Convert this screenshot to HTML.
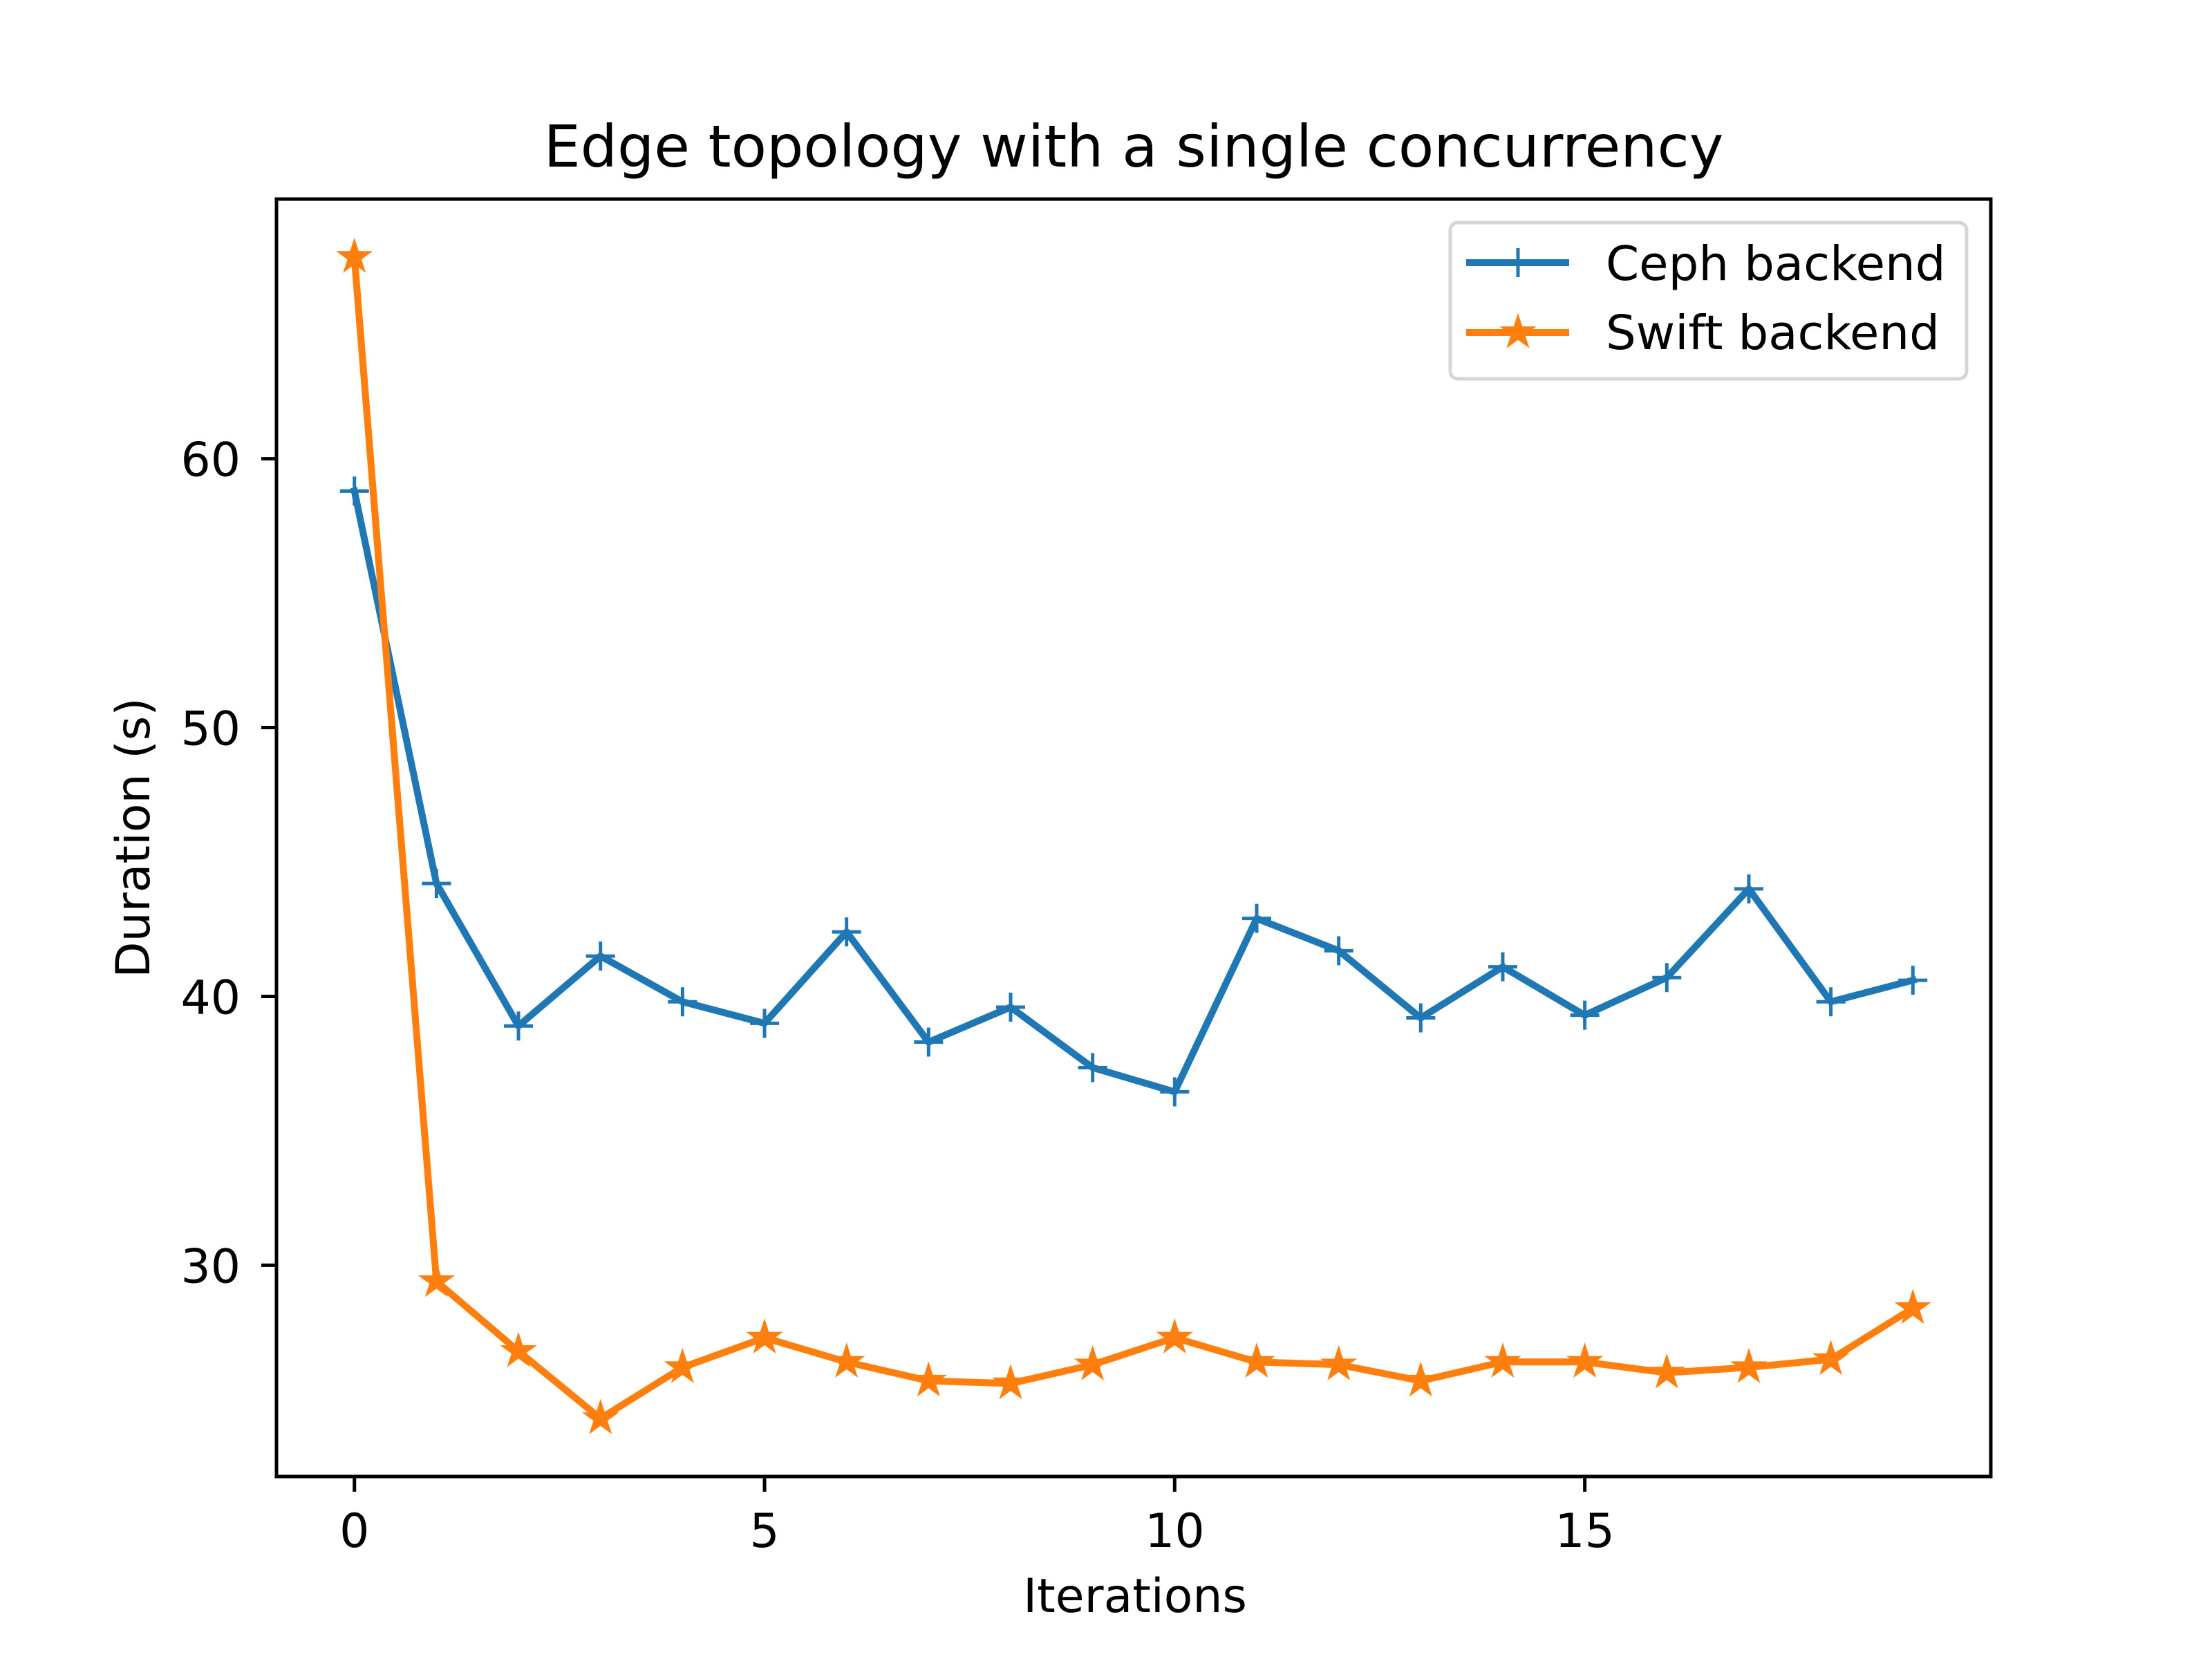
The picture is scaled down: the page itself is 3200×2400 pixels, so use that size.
<!DOCTYPE html>
<html><head><meta charset="utf-8"><style>
html,body{margin:0;padding:0;background:#fff}
svg{display:block}
text{font-family:"DejaVu Sans","Liberation Sans",sans-serif;fill:#000}
</style></head><body>
<svg id="chart" width="3200" height="2400" viewBox="0 0 3200 2400" xmlns="http://www.w3.org/2000/svg">
<rect x="0" y="0" width="3200" height="2400" fill="#fff"/>
<text x="1640" y="241" font-size="84" text-anchor="middle">Edge topology with a single concurrency</text>
<g id="plot"></g>
<rect x="400" y="288" width="2480" height="1848" fill="none" stroke="#000" stroke-width="5"/>
<g id="ticks"></g>
<text x="1642" y="2332" font-size="68" text-anchor="middle">Iterations</text>
<text transform="translate(216,1212) rotate(-90)" font-size="68" text-anchor="middle">Duration (s)</text>
<g>
<rect x="2098" y="322" width="747" height="226" rx="11" fill="#fff" fill-opacity="0.8" stroke="#d6d6d6" stroke-width="5"/>
<g id="legend-items"></g>
<text x="2323" y="405" font-size="69">Ceph backend</text>
<text x="2323" y="505" font-size="69">Swift backend</text>
</g>
</svg>
<script>
const iterations = [0,1,2,3,4,5,6,7,8,9,10,11,12,13,14,15,16,17,18,19];
const cephValues = [58.8,44.2,38.9,41.5,39.8,39.0,42.4,38.3,39.6,37.35,36.45,42.9,41.7,39.2,41.1,39.3,40.7,44.0,39.8,40.6];
const swiftValues = [67.5,29.4,26.8,24.3,26.2,27.3,26.4,25.7,25.6,26.3,27.3,26.4,26.3,25.7,26.4,26.4,26.0,26.2,26.5,28.4];
const xTicks = [0,5,10,15];
const yTicks = [30,40,50,60];

const NS = "http://www.w3.org/2000/svg";
const L = 400, R = 2880, T = 288, B = 2136;
const xMin = Math.min(...iterations), xMax = Math.max(...iterations);
const xPad = (xMax - xMin) * 0.05;
const allY = cephValues.concat(swiftValues);
const yMinD = Math.min(...allY), yMaxD = Math.max(...allY);
const yPad = (yMaxD - yMinD) * 0.05;
const x0 = xMin - xPad, x1 = xMax + xPad, y0 = yMinD - yPad, y1 = yMaxD + yPad;
function xs(v){ return L + (v - x0) / (x1 - x0) * (R - L); }
function ys(v){ return B - (v - y0) / (y1 - y0) * (B - T); }
function mk(tag, attrs, parent){
  const e = document.createElementNS(NS, tag);
  for (const k in attrs) e.setAttribute(k, attrs[k]);
  parent.appendChild(e);
  return e;
}
const plot = document.getElementById('plot');
const ticks = document.getElementById('ticks');
const legendItems = document.getElementById('legend-items');
const BLUE = '#1f77b4', ORANGE = '#ff7f0e';

function starPoints(cx, cy, r){
  const pts = [];
  const ri = r * 0.381966;
  for (let i = 0; i < 10; i++){
    const a = -Math.PI/2 + i * Math.PI/5;
    const rr = i % 2 === 0 ? r : ri;
    pts.push((cx + rr*Math.cos(a)).toFixed(1) + ',' + (cy + rr*Math.sin(a)).toFixed(1));
  }
  return pts.join(' ');
}
function plus(parent, cx, cy, color){
  const h = 21;
  return mk('path', {d:`M${cx-h},${cy}H${cx+h}M${cx},${cy-h}V${cy+h}`, stroke: color, 'stroke-width': 5, fill:'none'}, parent);
}
function star(parent, cx, cy, color){
  return mk('polygon', {points: starPoints(cx, cy, 20), fill: color, stroke: color, 'stroke-width': 5, 'stroke-linejoin':'miter'}, parent);
}

function drawSeries(vals, color, name, markerFn){
  const g = mk('g', {}, plot);
  
  
  const d = vals.map((v,i) => (i ? 'L' : 'M') + xs(iterations[i]).toFixed(1) + ',' + ys(v).toFixed(1)).join('');
  const line = mk('path', {d: d, fill:'none', stroke: color, 'stroke-width': 10, 'stroke-linejoin':'round', 'stroke-linecap':'square'}, g);
  
  
  vals.forEach((v,i) => {
    const m = markerFn(g, xs(iterations[i]), ys(v), color);
    
    
  });
}
drawSeries(cephValues, BLUE, 'ceph', plus);
drawSeries(swiftValues, ORANGE, 'swift', star);

xTicks.forEach(t => {
  const x = xs(t);
  const tl = mk('line', {x1:x, x2:x, y1:B, y2:B+22, stroke:'#000', 'stroke-width':5}, ticks);
  
  
  const tx = mk('text', {x:x, y:2238, 'font-size':68, 'text-anchor':'middle'}, ticks);
  tx.textContent = String(t);
  
  
});
yTicks.forEach(t => {
  const y = ys(t);
  const tl = mk('line', {x1:L-22, x2:L, y1:y, y2:y, stroke:'#000', 'stroke-width':5}, ticks);
  
  
  const tx = mk('text', {x:348, y:y+25, 'font-size':68, 'text-anchor':'end'}, ticks);
  tx.textContent = String(t);
  
  
});

const l1 = mk('line', {x1:2121, x2:2270, y1:380, y2:380, stroke:BLUE, 'stroke-width':10}, legendItems);


const m1 = plus(legendItems, 2196, 380, BLUE);


const l2 = mk('line', {x1:2121, x2:2270, y1:481, y2:481, stroke:ORANGE, 'stroke-width':10}, legendItems);


const m2 = star(legendItems, 2196, 481, ORANGE);


</script>
</body></html>
